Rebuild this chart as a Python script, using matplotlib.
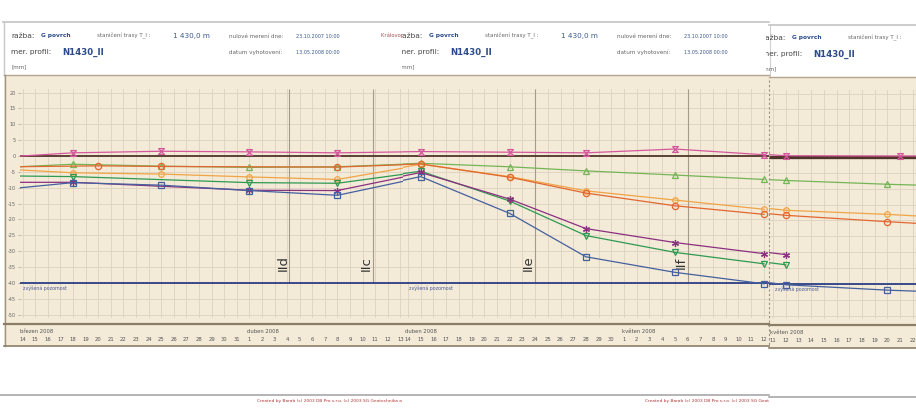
import matplotlib
matplotlib.use('Agg')
import matplotlib.pyplot as plt
import matplotlib.dates as mdates
from matplotlib.lines import Line2D
from matplotlib.patches import Rectangle
from matplotlib.transforms import Bbox, TransformedBbox, blended_transform_factory
import numpy as np
import pandas as pd

W, H = 916, 411

# ---------------- data (mm) ----------------
pink_dates = ['2008-03-11', '2008-03-18', '2008-03-25', '2008-04-01', '2008-04-08', '2008-04-15',
              '2008-04-22', '2008-04-28', '2008-05-05', '2008-05-12', '2008-05-21', '2008-05-28']
pink_vals = [-0.7, 1.0, 1.5, 1.3, 1.0, 1.4, 1.2, 1.0, 2.2, 0.4, 0.3, 0.3]

gup_dates = ['2008-03-11', '2008-03-18', '2008-03-25', '2008-04-01', '2008-04-08', '2008-04-15',
             '2008-04-22', '2008-04-28', '2008-05-05', '2008-05-12', '2008-05-20', '2008-05-27']
gup_vals = [-3.9, -2.6, -3.2, -3.6, -3.4, -2.3, -3.4, -4.7, -6.0, -7.4, -8.6, -9.4]

orange_dates = ['2008-03-11', '2008-03-20', '2008-03-25', '2008-04-08', '2008-04-15', '2008-04-22',
                '2008-04-28', '2008-05-05', '2008-05-12', '2008-05-20', '2008-05-27']
orange_vals = [-3.5, -3.1, -3.3, -3.5, -2.5, -6.7, -11.7, -15.7, -18.4, -20.4, -22.0]

lorange_dates = ['2008-03-11', '2008-03-18', '2008-03-25', '2008-04-01', '2008-04-08', '2008-04-15',
                 '2008-04-22', '2008-04-28', '2008-05-05', '2008-05-12', '2008-05-20', '2008-05-27']
lorange_vals = [-3.8, -5.3, -5.7, -6.6, -7.4, -2.6, -6.5, -11.0, -13.9, -16.8, -18.1, -19.6]

gdown_dates = ['2008-03-11', '2008-03-18', '2008-04-01', '2008-04-08', '2008-04-15', '2008-04-22',
               '2008-04-28', '2008-05-05', '2008-05-12']
gdown_vals = [-6.2, -6.5, -8.4, -8.6, -4.8, -14.2, -25.1, -30.4, -34.0]

purple_dates = ['2008-03-11', '2008-03-18', '2008-04-01', '2008-04-08', '2008-04-15', '2008-04-22',
                '2008-04-28', '2008-05-05', '2008-05-12']
purple_vals = [-8.3, -8.3, -10.8, -10.9, -5.2, -13.6, -22.9, -27.3, -30.8]

blue_dates = ['2008-03-11', '2008-03-18', '2008-03-25', '2008-04-01', '2008-04-08', '2008-04-15',
              '2008-04-22', '2008-04-28', '2008-05-05', '2008-05-12', '2008-05-20', '2008-05-27']
blue_vals = [-11.1, -8.4, -9.2, -10.9, -12.4, -6.5, -18.1, -31.8, -36.7, -40.3, -42.0, -43.0]

alert_level = -40
alert_label = 'zvýšená pozornost'

stage_names = ['IId', 'IIc', 'IIe', 'IIf']
stage_dates = ['2008-04-04 04:00', '2008-04-10 19:00', '2008-04-24 00:00', '2008-05-06 00:00']

yticks = list(range(-50, 25, 5))
month_names = {3: 'březen 2008', 4: 'duben 2008', 5: 'květen 2008'}

# panels: (first labelled day, px of first day, px per day, left px, right px, last day, data cutoff)
panels = [
    ('2008-03-14', 22.7, 12.59, 20, 403, '2008-04-13', '2008-05-13'),
    ('2008-04-14', 408.0, 12.71, 403, 769, '2008-05-12', '2008-05-13'),
    ('2008-05-11', 773.0, 12.70, 769, 916, '2008-05-22', '2008-06-30'),
]

series = [
    (pink_dates, pink_vals, '#d6589c', [(-1, 1), (1, 1), (-1, -1), (1, -1), (-1, 1)], 4.2),
    (gup_dates, gup_vals, '#74b556', '^', 4.5),
    (lorange_dates, lorange_vals, '#f0a445', 'o', 4.0),
    (orange_dates, orange_vals, '#e2672f', 'o', 4.5),
    (gdown_dates, gdown_vals, '#2e9a52', 'v', 4.5),
    (purple_dates, purple_vals, '#8b3080', (6, 2, 0), 5.0),
    (blue_dates, blue_vals, '#44609f', 's', 4.2),
]

BEIGE = '#f3ead8'
GRID = '#ddd1bf'
BROWN = '#8c7d66'

fig = plt.figure(figsize=(W / 100, H / 100), dpi=100)
fig.patch.set_facecolor('white')


def fx(x):
    return x / W


def fy(y):
    return 1 - y / H


def hline(x0, x1, y, **kw):
    fig.add_artist(Line2D([fx(x0), fx(x1)], [fy(y), fy(y)], transform=fig.transFigure, **kw))


def vline(x, y0, y1, **kw):
    fig.add_artist(Line2D([fx(x), fx(x)], [fy(y0), fy(y1)], transform=fig.transFigure, **kw))


# background boxes
fig.add_artist(Rectangle((fx(4), fy(346)), fx(765), 271 / H, transform=fig.transFigure,
                         facecolor=BEIGE, edgecolor='none', zorder=0))
fig.add_artist(Rectangle((fx(769), fy(348)), fx(147), 271 / H, transform=fig.transFigure,
                         facecolor=BEIGE, edgecolor='none', zorder=0))
hline(3, 769, 22, color='#c4c4c4', lw=1.2)
hline(769, 916, 25, color='#c4c4c4', lw=1.2)
vline(3.5, 22, 75, color='#c8c8c8', lw=1.0)
vline(769.5, 25, 77, color='#d0d0d0', lw=0.8)
hline(4, 769, 75.5, color='#b3a58f', lw=1.0)
hline(769, 916, 77.5, color='#b3a58f', lw=1.0)
vline(4.5, 75, 346, color='#a09480', lw=1.0)
hline(4, 769, 323.5, color=BROWN, lw=1.6)
hline(769, 916, 325, color=BROWN, lw=1.6)
hline(4, 769, 346, color=BROWN, lw=1.2)
hline(769, 916, 348, color=BROWN, lw=1.2)
hline(0, 769, 395, color='#a8a8a8', lw=1.2)
hline(769, 916, 396.5, color='#a8a8a8', lw=1.2)


def ftext(x, y, s, clip, **kw):
    t = fig.text(fx(x), fy(y), s, va='center', ha='left', **kw)
    t.set_clip_box(TransformedBbox(Bbox([[fx(clip[0]), 0], [fx(clip[1]), 1]]), fig.transFigure))
    t.set_clip_on(True)
    return t


LBL = '#444444'
SUB = '#666666'
VAL = '#3a5a8c'
for dx, dy, clip in [(0, 0, (0, 402)), (388, 0, (402, 769)), (751, 2, (766, 916))]:
    ftext(11 + dx, 36 + dy, 'ražba:', clip, fontsize=5.3, color=LBL)
    ftext(41 + dx, 36 + dy, 'G povrch', clip, fontsize=4.2, color='#2a4a8a', fontweight='bold')
    ftext(97 + dx, 36 + dy, 'staničení trasy T_I :', clip, fontsize=4.0, color=SUB)
    ftext(173 + dx, 36 + dy, '1 430,0 m', clip, fontsize=5.2, color=VAL)
    ftext(229 + dx, 36 + dy, 'nulové merení dne:', clip, fontsize=4.1, color=SUB)
    ftext(296 + dx, 36 + dy, '23.10.2007 10:00', clip, fontsize=3.5, color=VAL)
    ftext(381 + dx, 35 + dy, 'Královopolský tunel', clip, fontsize=3.8, color='#a05555')
    ftext(11 + dx, 52 + dy, 'mer. profil:', clip, fontsize=5.3, color=LBL)
    ftext(62 + dx, 52 + dy, 'N1430_II', clip, fontsize=6.2, color='#2a4a8a', fontweight='bold')
    ftext(229 + dx, 52 + dy, 'datum vyhotovení:', clip, fontsize=4.1, color=SUB)
    ftext(296 + dx, 52 + dy, '13.05.2008 00:00', clip, fontsize=3.5, color=VAL)
    ftext(11 + dx, 67 + dy, '[mm]', clip, fontsize=4.0, color=SUB)
    ftext(257 + dx, 401, 'Created by Barab (c) 2003 DB Pro s.r.o. (c) 2003 SG Geotechnika a.s.', clip,
          fontsize=3.2, color='#b03535')

TOP_PX, BOT_PX = 89, 318
Y0PX, YSC = 156.0, 3.17
ylim = ((Y0PX - BOT_PX) / YSC, (Y0PX - TOP_PX) / YSC)

for i, (d0, px0, ppd, lpx, rpx, dlast, cutoff) in enumerate(panels):
    dpx = 1 if i == 2 else 0
    ax = fig.add_axes([fx(lpx), fy(BOT_PX + dpx), (rpx - lpx) / W, (BOT_PX - TOP_PX) / H])
    ax.set_facecolor(BEIGE)
    for s in ax.spines.values():
        s.set_visible(False)
    t0 = mdates.date2num(pd.Timestamp(d0))
    ax.set_xlim(t0 - (px0 - lpx) / ppd, t0 + (rpx - px0) / ppd)
    ax.set_ylim(*ylim)

    days = pd.date_range(d0, dlast, freq='D')
    ax.set_xticks(days)
    ax.set_xticklabels([str(d.day) for d in days])
    ax.tick_params(axis='x', length=0, pad=13.5, labelsize=3.8, labelcolor='#555555')
    ax.set_yticks(yticks)
    if i == 0:
        ax.set_yticklabels([str(v) for v in yticks])
        ax.tick_params(axis='y', length=1.5, width=0.5, color='#999999', pad=1.5,
                       labelsize=3.6, labelcolor='#666666')
    else:
        ax.tick_params(axis='y', length=0, labelleft=False)
    ax.grid(True, color=GRID, lw=0.6, zorder=0)
    ax.set_axisbelow(True)

    # month labels
    tr = blended_transform_factory(ax.transData, ax.transAxes)
    firsts = [days[0]] + [d for d in days[1:] if d.day == 1]
    for d in firsts:
        ax.text(mdates.date2num(d) - 0.2, -0.061, month_names[d.month], transform=tr,
                fontsize=3.8, color='#555555', ha='left', va='center', clip_on=False)

    # reference lines
    ax.axhline(0, color='#50352b', lw=2.4 if i == 2 else 1.3, zorder=2)
    ax.axhline(alert_level, color='#2c3f86', lw=1.3, zorder=2)
    ax.annotate(alert_label, xy=(0, alert_level), xycoords=('axes fraction', 'data'),
                xytext=(2 if i == 0 else 4, -4), textcoords='offset points',
                fontsize=3.4, color='#4a5a9a', ha='left', va='center')

    # construction stages
    for name, sd in zip(stage_names, stage_dates):
        ts = pd.Timestamp(sd)
        ax.vlines(ts, alert_level, ylim[1], color='#a59a8c', lw=0.8, zorder=1)
        ax.text(mdates.date2num(ts) - 0.5, -33.8, name, rotation=90, fontsize=9.5,
                color='#333333', ha='center', va='center', zorder=3, clip_on=True)

    # series
    cut = pd.Timestamp(cutoff)
    for dts, vals, col, mk, ms in series:
        dd = pd.to_datetime(dts)
        keep = dd < cut
        ax.plot(dd[keep], np.array(vals)[keep], color=col, lw=0.9, marker=mk, ms=ms,
                mfc='none', mec=col, mew=0.9, zorder=4)

# dashed boundary at the right edge of the second screenshot
vline(768.5, 80, 346, color='#9a9080', lw=0.8, ls=(0, (2, 2)))

fig.savefig('out.png', dpi=100, facecolor='white')
